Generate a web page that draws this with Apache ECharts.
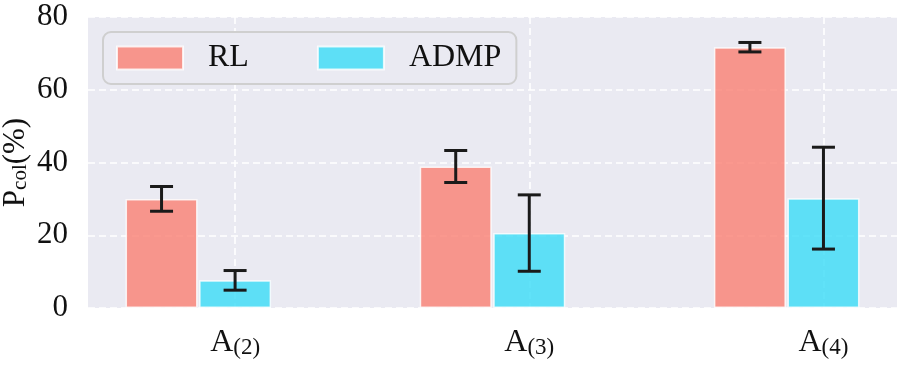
<!DOCTYPE html>
<html>
<head>
<meta charset="utf-8">
<script src="https://cdn.jsdelivr.net/npm/echarts@6/dist/echarts.min.js"></script>
<style>
  html, body { margin: 0; padding: 0; background: #fff; }
  #main { width: 901px; height: 367px; }
</style>
</head>
<body>
<div id="main"></div>
<script>
    // 数据
    var groupSubs = ['(2)', '(3)', '(4)'];
    var groupPos = [0, 1, 2];
    var rlMean = [30.0, 38.9, 71.7];
    var rlErr = [3.4, 4.4, 1.3];
    var admpMean = [7.6, 20.6, 30.2];
    var admpErr = [2.7, 10.5, 14.0];
    var yTicks = [0, 20, 40, 60, 80];

    var barOffset = -0.25;   // RL 向左偏移
    var serif = '"Liberation Serif", "Times New Roman", serif';

    var rlData = groupPos.map(function (p, i) { return [p + barOffset, rlMean[i]]; });
    var admpData = groupPos.map(function (p, i) { return [p, admpMean[i]]; });
    var errData = [];
    groupPos.forEach(function (p, i) {
        errData.push([p + barOffset, rlMean[i] - rlErr[i], rlMean[i] + rlErr[i]]);
        errData.push([p, admpMean[i] - admpErr[i], admpMean[i] + admpErr[i]]);
    });

    function renderErr(params, api) {
        var x = api.value(0);
        var lo = api.coord([x, api.value(1)]);
        var hi = api.coord([x, api.value(2)]);
        var cap = 11.5;
        var st = { stroke: '#1a1a1a', lineWidth: 3 };
        return {
            type: 'group',
            children: [
                { type: 'line', shape: { x1: lo[0], y1: lo[1], x2: hi[0], y2: hi[1] }, style: st },
                { type: 'line', shape: { x1: lo[0] - cap, y1: lo[1], x2: lo[0] + cap, y2: lo[1] }, style: st },
                { type: 'line', shape: { x1: hi[0] - cap, y1: hi[1], x2: hi[0] + cap, y2: hi[1] }, style: st }
            ]
        };
    }

    var myChart = echarts.init(document.getElementById('main'));
    myChart.setOption({
        backgroundColor: '#ffffff',
        animation: false,
        grid: {
            left: 88, right: 4, top: 17, bottom: 59,
            outerBoundsMode: 'none',
            containLabel: false,
            show: true, backgroundColor: '#eaeaf2', borderWidth: 0
        },
        legend: {
            left: 103, top: 32,
            padding: [10, 15, 10, 13],
            backgroundColor: '#eaeaf2',
            borderColor: '#cfcfcf', borderWidth: 2, borderRadius: 8,
            itemWidth: 66, itemHeight: 23, itemGap: 68,
            icon: 'rect',
            textStyle: { fontFamily: serif, fontSize: 32, color: '#111', padding: [0, 0, 0, 20] },
            data: ['RL', 'ADMP']
        },
        xAxis: {
            type: 'value',
            min: -0.5, max: 2.25,
            axisLine: { show: false },
            axisTick: { show: false, customValues: groupPos },
            splitLine: { show: true, lineStyle: { color: '#ffffff', width: 1.6, type: [7, 4] } },
            axisLabel: {
                customValues: groupPos,
                margin: 19,
                formatter: function (v) {
                    return '{a|A}{s|' + groupSubs[Math.round(v)] + '}';
                },
                rich: {
                    a: { fontFamily: serif, fontSize: 32, color: '#111', lineHeight: 32 },
                    s: { fontFamily: serif, fontSize: 23, color: '#111', lineHeight: 23, verticalAlign: 'bottom', padding: [14, 0, 0, 0] }
                }
            }
        },
        yAxis: {
            type: 'value',
            min: 0, max: 80, interval: 20,
            axisLine: { show: false },
            axisTick: { show: false },
            splitLine: { show: true, lineStyle: { color: '#ffffff', width: 1.6, type: [7, 4] } },
            axisLabel: { fontFamily: serif, fontSize: 31, color: '#111', margin: 20 },
            name: '{a|P}{s|col}{a|(%)}',
            nameLocation: 'middle',
            nameGap: 57,
            nameMoveOverlap: false,
            nameRotate: 90,
            nameTextStyle: {
                rich: {
                    a: { fontFamily: serif, fontSize: 31, color: '#111', lineHeight: 31 },
                    s: { fontFamily: serif, fontSize: 21, color: '#111', lineHeight: 21, verticalAlign: 'bottom', padding: [12, 0, 0, 0] }
                }
            }
        },
        series: [
            {
                name: 'RL',
                type: 'bar',
                data: rlData,
                barWidth: 72,
                barGap: '-100%',
                itemStyle: { color: 'rgba(250,128,114,0.8)', borderColor: 'rgba(255,255,255,0.8)', borderWidth: 1.5 }
            },
            {
                name: 'ADMP',
                type: 'bar',
                data: admpData,
                barWidth: 72,
                barGap: '-100%',
                itemStyle: { color: 'rgba(58,220,246,0.8)', borderColor: 'rgba(255,255,255,0.8)', borderWidth: 1.5 }
            },
            {
                name: 'err',
                type: 'custom',
                renderItem: renderErr,
                data: errData,
                encode: { x: 0, y: [1, 2] },
                z: 5,
                silent: true
            }
        ]
    });
</script>
</body>
</html>
